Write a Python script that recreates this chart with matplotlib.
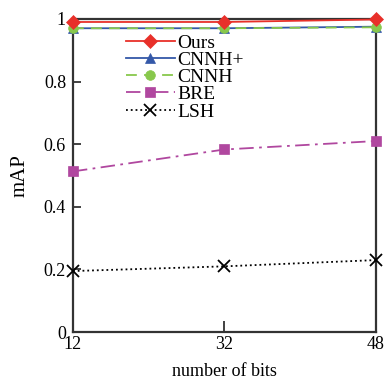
import matplotlib
matplotlib.use("Agg")
from matplotlib import pyplot as plt

bits = ["12", "32", "48"]
ours = [0.99, 0.99, 0.998]
cnnh_plus = [0.97, 0.97, 0.975]
cnnh = [0.97, 0.97, 0.973]
bre = [0.513, 0.583, 0.61]
lsh = [0.195, 0.21, 0.23]

plt.rcParams['font.family'] = ['Liberation Serif', 'DejaVu Serif']
plt.rcParams['mathtext.fontset'] = 'stix'

fig = plt.figure(figsize=(3.86, 3.77), dpi=100)
ax = fig.add_axes([0.189, 0.119, 0.785, 0.831])

x = list(range(len(bits)))
series = [
    (lsh, "LSH", "black", ":", "x", 5),
    (bre, "BRE", "#b0479f", (0, (8, 3, 1.5, 3)), "s", 6),
    (cnnh_plus, "CNNH+", "#3458a8", "-", "^", 7),
    (cnnh, "CNNH", "#88c84c", (0, (6, 4)), "o", 8),
    (ours, "Ours", "#e8302a", "-", "D", 9),
]
handles = {}
for vals, name, color, ls, mk, z in series:
    line, = ax.plot(x, vals, color=color, linestyle=ls, marker=mk,
                    markersize=7 if mk != "x" else 8, linewidth=1.3,
                    markeredgewidth=1.3 if mk == "x" else 0.5,
                    clip_on=False, zorder=z, label=name)
    handles[name] = line

order = ["Ours", "CNNH+", "CNNH", "BRE", "LSH"]
ax.legend([handles[n] for n in order], order, loc="upper left",
          bbox_to_anchor=(0.13, 0.995), frameon=False, fontsize=14,
          handlelength=2.5, handletextpad=0.15, labelspacing=-0.02,
          borderpad=0.2)

ax.set_xlim(0, 2)
ax.set_ylim(0, 1)
ax.set_xticks(x)
ax.set_xticklabels(bits)
ax.set_yticks([0, 0.2, 0.4, 0.6, 0.8, 1])
ax.set_yticklabels(["0", "0.2", "0.4", "0.6", "0.8", "1"])
ax.tick_params(axis="both", direction="in", labelsize=13, width=1.3,
               color="#333333", pad=5)
ax.tick_params(axis="y", length=6)
ax.tick_params(axis="x", length=8, pad=3)
for s in ax.spines.values():
    s.set_linewidth(1.6)
    s.set_color("#333333")

ax.set_xlabel("number of bits", fontsize=13, labelpad=7)
ax.set_ylabel("mAP", fontsize=15, labelpad=10)

fig.savefig("out.png", dpi=100)
